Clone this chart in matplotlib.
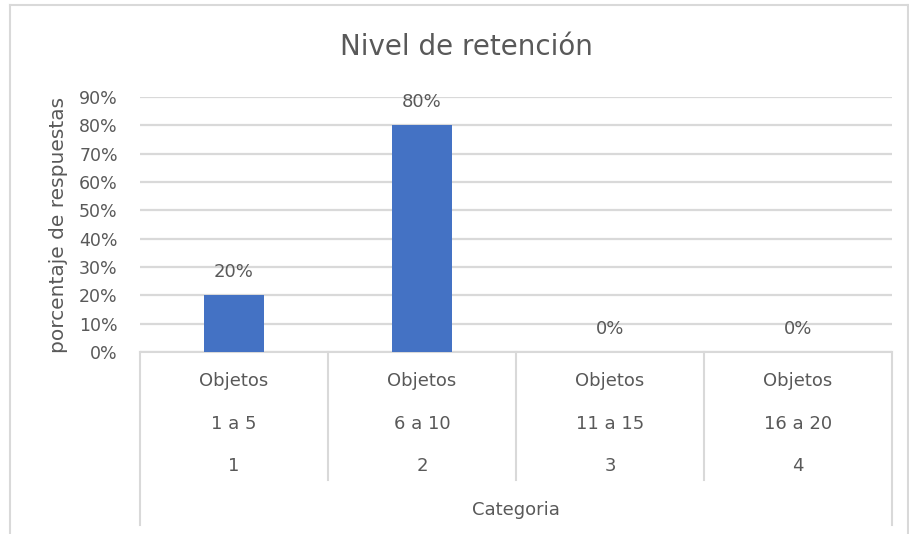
import matplotlib
matplotlib.use("Agg")
import matplotlib.pyplot as plt
from matplotlib.lines import Line2D
import matplotlib.transforms as mtransforms

plt.rcParams['font.family'] = ['DejaVu Sans']

categories_top = ["Objetos", "Objetos", "Objetos", "Objetos"]
categories_mid = ["1 a 5", "6 a 10", "11 a 15", "16 a 20"]
categories_num = ["1", "2", "3", "4"]
values = [0.20, 0.80, 0.0, 0.0]
yticks = [0.0, 0.1, 0.2, 0.3, 0.4, 0.5, 0.6, 0.7, 0.8, 0.9]
title = "Nivel de retención"
ylabel = "porcentaje de respuestas"
xlabel = "Categoria"

W, H = 909, 534
fig = plt.figure(figsize=(W / 100, H / 100), dpi=100)
left, right, bottom_px, top_px = 140, 892, 352, 97
ax = fig.add_axes([left / W, (H - bottom_px) / H, (right - left) / W, (bottom_px - top_px) / H])

txt = '#595959'
grid = '#D9D9D9'
fs = 12.5
x = list(range(len(values)))
ax.bar(x, values, width=0.315, color='#4472C4', zorder=3)
ax.set_xlim(-0.5, len(values) - 0.5)
ax.set_ylim(0, 0.9)
ax.set_yticks(yticks)
ax.set_yticklabels([f"{int(round(t*100))}%" for t in yticks], color=txt, fontsize=fs)
ax.tick_params(axis='y', length=0, pad=16)
ax.set_xticks([])
for s in ['top', 'right', 'left']:
    ax.spines[s].set_visible(False)
ax.spines['bottom'].set_color(grid)
ax.spines['bottom'].set_linewidth(1.5)
ax.yaxis.grid(True, color=grid, linewidth=1.6, zorder=0)
ax.set_axisbelow(True)

for xi, v in zip(x, values):
    ax.annotate(f"{int(round(v*100))}%", (xi, v), xytext=(0, 10), textcoords='offset points',
                ha='center', va='bottom', color=txt, fontsize=13)

trans = mtransforms.blended_transform_factory(ax.transData, ax.transAxes)
hax = bottom_px - top_px
inner_low = -(480 - bottom_px) / hax
outer_low = -(525 - bottom_px) / hax
for b in [i - 0.5 for i in range(1, len(values))]:
    ax.add_line(Line2D([b, b], [0, inner_low], transform=trans, color=grid, lw=1.5, clip_on=False))
for b in [-0.5, len(values) - 0.5]:
    ax.add_line(Line2D([b, b], [0, outer_low], transform=trans, color=grid, lw=1.5, clip_on=False))

for xi, a, b, c in zip(x, categories_top, categories_mid, categories_num):
    ax.text(xi, -(381 - bottom_px) / hax, a, transform=trans, ha='center', va='center', color=txt, fontsize=13)
    ax.text(xi, -(424 - bottom_px) / hax, b, transform=trans, ha='center', va='center', color=txt, fontsize=13)
    ax.text(xi, -(466 - bottom_px) / hax, c, transform=trans, ha='center', va='center', color=txt, fontsize=13)
ax.text((len(values) - 1) / 2, -(510 - bottom_px) / hax, xlabel, transform=trans, ha='center', va='center',
        color=txt, fontsize=13)

fig.text(466 / W, 1 - 47 / H, title, ha='center', va='center', color=txt, fontsize=20)
fig.text(59 / W, 1 - 225 / H, ylabel, ha='center', va='center', rotation=90, color=txt, fontsize=14.5)

# chart border
fig.add_artist(Line2D([10 / W, 908 / W], [1 - 5 / H, 1 - 5 / H], transform=fig.transFigure, color=grid, lw=1.5))
fig.add_artist(Line2D([10 / W, 10 / W], [0, 1 - 5 / H], transform=fig.transFigure, color=grid, lw=1.5))
fig.add_artist(Line2D([908 / W, 908 / W], [0, 1 - 5 / H], transform=fig.transFigure, color=grid, lw=1.5))

fig.savefig("out.png", dpi=100, facecolor='white')
